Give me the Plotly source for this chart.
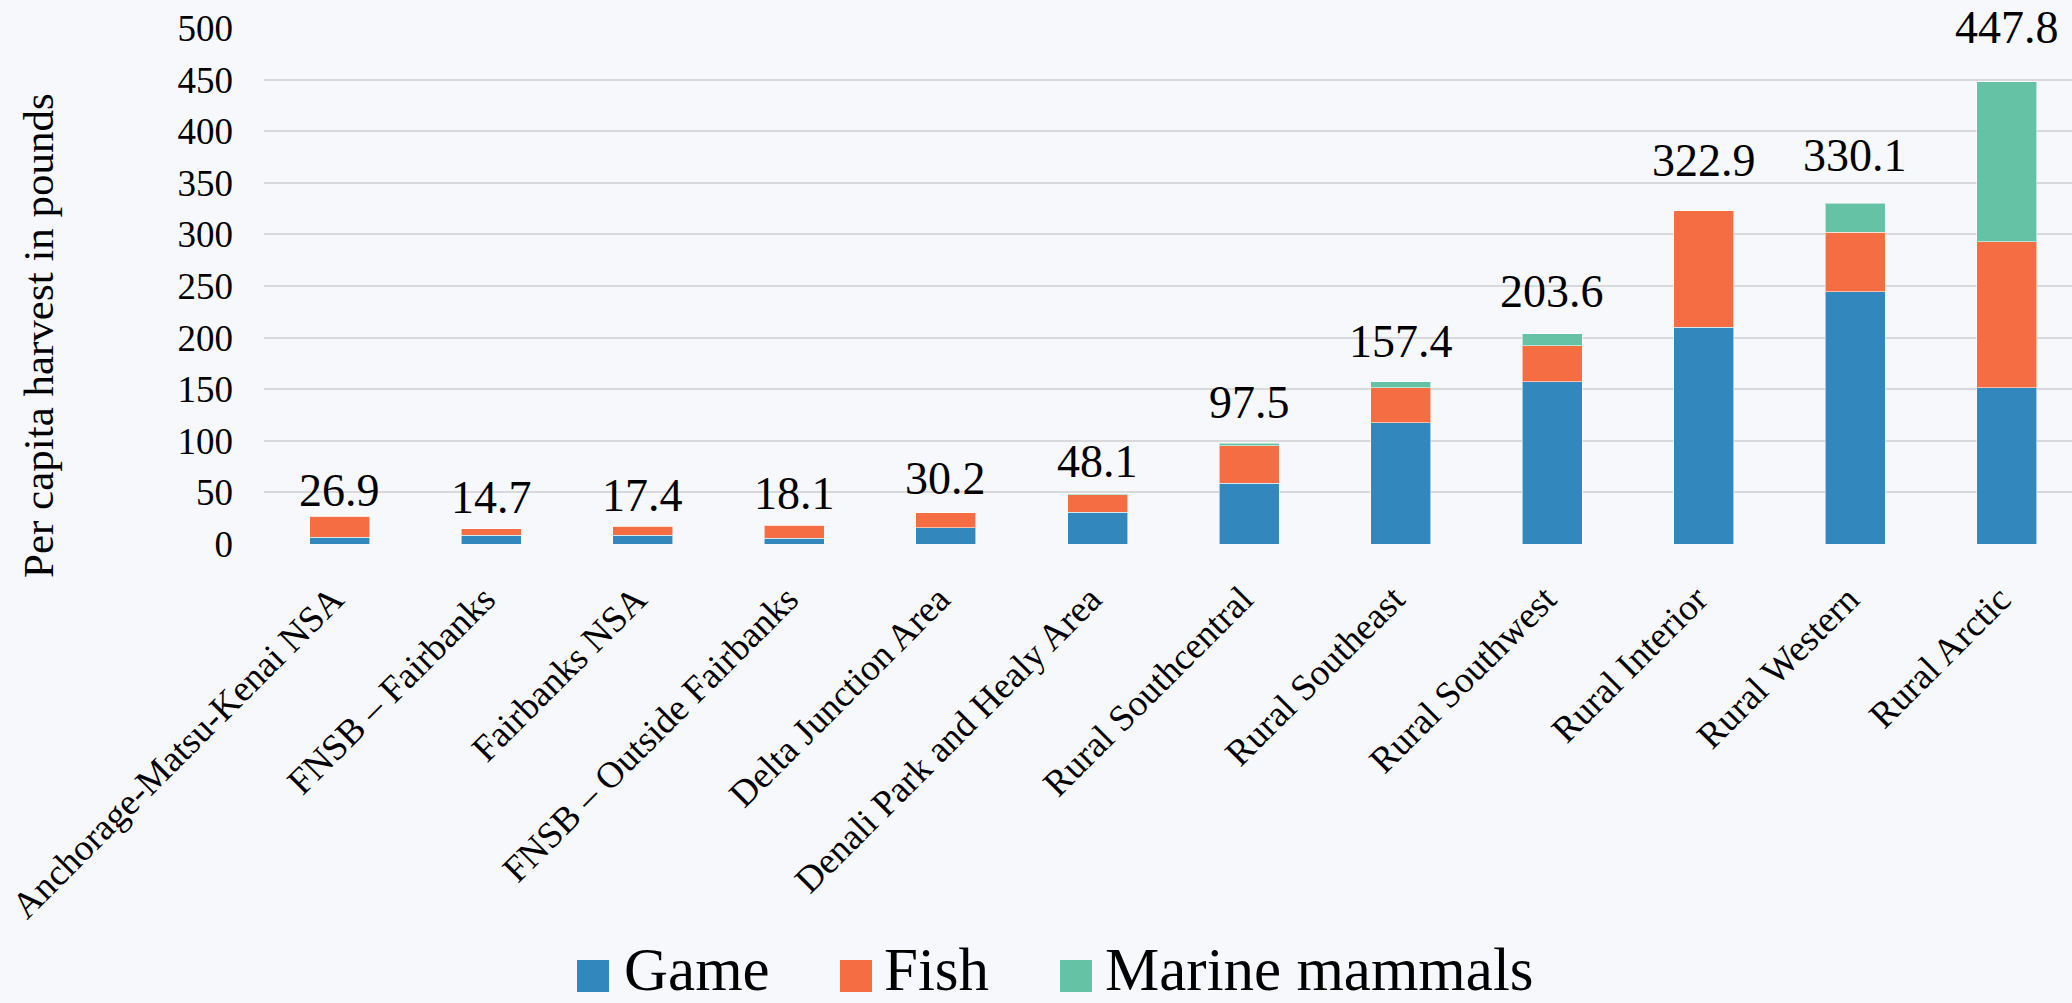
import plotly.graph_objects as go

# ---------------- data ----------------
categories = [
    "Anchorage-Matsu-Kenai NSA",
    "FNSB – Fairbanks",
    "Fairbanks NSA",
    "FNSB – Outside Fairbanks",
    "Delta Junction Area",
    "Denali Park and Healy Area",
    "Rural Southcentral",
    "Rural Southeast",
    "Rural Southwest",
    "Rural Interior",
    "Rural Western",
    "Rural Arctic",
]
game = [6.5, 8.4, 8.5, 5.5, 15.8, 30.6, 58.9, 117.6, 157.1, 210.0, 244.6, 151.2]
fish = [20.4, 6.3, 8.9, 12.6, 14.4, 17.2, 36.4, 34.0, 35.0, 112.9, 57.5, 141.5]
marine_mammals = [0, 0, 0, 0, 0, 0.3, 2.2, 5.8, 11.5, 0, 28.0, 155.1]
totals = [26.9, 14.7, 17.4, 18.1, 30.2, 48.1, 97.5, 157.4, 203.6, 322.9, 330.1, 447.8]
series_names = ["Game", "Fish", "Marine mammals"]
y_ticks = [0, 50, 100, 150, 200, 250, 300, 350, 400, 450, 500]

# ---------------- style ----------------
colors = ["#3288bd", "#f46d43", "#66c2a5"]
label_gap_px = [9, 15, 14, 15, 18, 16, 24, 24, 26, 34, 31, 38]
FONT = "Liberation Serif, Times New Roman, serif"
BG = "#f7f8fc"
W, H = 2072, 1003
ML, MR, MT, MB = 264, 0, 28, 459
PW, PH = W - ML - MR, H - MT - MB


def px_x(px):
    return (px - ML) / PW


def px_y(py):
    return (H - MB - py) / PH


fig = go.Figure()
for name, vals, col in zip(series_names, [game, fish, marine_mammals], colors):
    fig.add_trace(go.Bar(
        x=categories, y=vals, name=name,
        marker=dict(color=col, line=dict(color="rgba(255,255,255,0.55)", width=1)),
        showlegend=False, hoverinfo="x+y+name",
    ))

# total labels
for cat, tot, gap in zip(categories, totals, label_gap_px):
    fig.add_annotation(
        x=cat, y=tot, xref="x", yref="y", text=f"{tot:.1f}",
        showarrow=False, yanchor="bottom", xanchor="center",
        yshift=gap - 11, font=dict(family=FONT, size=46, color="#000"),
    )

# y axis title
fig.add_annotation(
    x=px_x(38), y=px_y(336), xref="paper", yref="paper",
    text="Per capita harvest in pounds", textangle=-90, showarrow=False,
    xanchor="center", yanchor="middle", font=dict(family=FONT, size=43, color="#000"),
)

# manual legend
legend_items = [(577, 626), (840, 886), (1060, 1107)]
for (sq_x, tx_x), name, col in zip(legend_items, series_names, colors):
    fig.add_shape(type="rect", xref="paper", yref="paper",
                  x0=px_x(sq_x), x1=px_x(sq_x + 32), y0=px_y(992), y1=px_y(960),
                  fillcolor=col, line=dict(width=0))
    fig.add_annotation(
        x=px_x(tx_x - 4), y=px_y(969), xref="paper", yref="paper", text=name,
        showarrow=False, xanchor="left", yanchor="middle",
        font=dict(family=FONT, size=61, color="#000"),
    )

fig.update_layout(
    width=W, height=H,
    barmode="stack", bargap=0.604,
    paper_bgcolor=BG, plot_bgcolor=BG,
    margin=dict(l=ML, r=MR, t=MT, b=MB, autoexpand=False),
    font=dict(family=FONT, size=37, color="#000"),
    showlegend=False,
    xaxis=dict(
        type="category", range=[-0.5, 11.43], tickangle=-45,
        showgrid=False, showline=False, zeroline=False, ticks="",
        tickfont=dict(family=FONT, size=37, color="#000"),
        ticklabelstandoff=25, ticklabelshift=-7,
    ),
    yaxis=dict(
        range=[0, 500], tickvals=y_ticks, showgrid=True,
        gridcolor="#d9d9dc", gridwidth=1.5, zeroline=False, showline=False,
        ticks="", ticklabelstandoff=30,
        tickfont=dict(family=FONT, size=37, color="#000"),
    ),
)

fig.write_html(
    "out.html",
    config={"displayModeBar": False},
    post_script="document.body.style.margin='0';document.body.style.overflow='hidden';"
                "document.body.style.background='" + BG + "';",
)
